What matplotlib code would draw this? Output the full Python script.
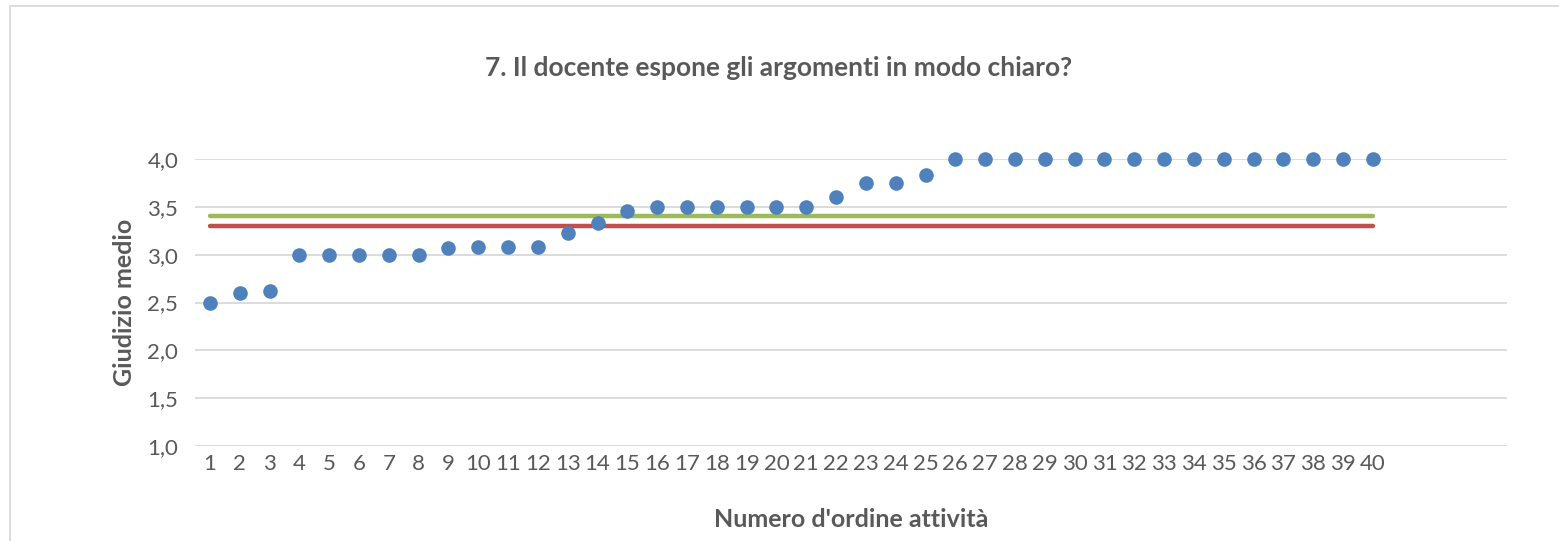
import numpy as np
import matplotlib
matplotlib.use("Agg")
import matplotlib.pyplot as plt
from matplotlib.patches import Rectangle

# Dati
attivita = list(range(1, 41))
giudizio = [2.50, 2.60, 2.62, 3.00, 3.00, 3.00, 3.00, 3.00, 3.07, 3.08,
            3.08, 3.08, 3.23, 3.33, 3.46, 3.50, 3.50, 3.50, 3.50, 3.50,
            3.50, 3.60, 3.75, 3.75, 3.83, 4.00, 4.00, 4.00, 4.00, 4.00,
            4.00, 4.00, 4.00, 4.00, 4.00, 4.00, 4.00, 4.00, 4.00, 4.00]
media_verde = 3.40
media_rossa = 3.30
yticks = [1.0, 1.5, 2.0, 2.5, 3.0, 3.5, 4.0]

TXT = "#595959"
plt.rcParams["font.family"] = ["Lato", "DejaVu Sans"]

W, H = 1559, 541
fig = plt.figure(figsize=(W / 100, H / 100), dpi=100)
ax = fig.add_axes([195 / W, 1 - 446 / H, (1507 - 195) / W, (446 - 159) / H])

# cornice del grafico
fig.patches.append(Rectangle((10 / W, -0.05), 1.1, 1 - 6 / H + 0.05,
                             transform=fig.transFigure, fill=False,
                             edgecolor="#D9D9D9", linewidth=1.3))

for y in yticks:
    ax.axhline(y, color="#D9D9D9", linewidth=1.3, zorder=1)

x = np.array(attivita)
ax.plot([x[0], x[-1]], [media_verde] * 2, color="#9BBB59", linewidth=3.2,
        solid_capstyle="round", zorder=2)
ax.plot([x[0], x[-1]], [media_rossa] * 2, color="#C0504D", linewidth=3.2,
        solid_capstyle="round", zorder=2)
ax.plot(x, giudizio, "o", color="#4F81BD", markersize=10.5, markeredgewidth=0,
        clip_on=False, zorder=3)

ax.set_xlim(0.5, 44.5)
ax.set_ylim(1.0, 4.0)
ax.set_xticks(attivita)
ax.set_xticklabels([str(i) for i in attivita])
ax.set_yticks(yticks)
ax.set_yticklabels([f"{v:.1f}".replace(".", ",") for v in yticks])
ax.tick_params(length=0, labelsize=16, labelcolor=TXT)
ax.tick_params(axis="y", pad=12)
ax.tick_params(axis="x", pad=6)
for s in ax.spines.values():
    s.set_visible(False)

ax.set_xlabel("Numero d'ordine attività", fontsize=18, fontweight="bold",
              color=TXT, labelpad=24)
ax.set_ylabel("Giudizio medio", fontsize=18, fontweight="bold", color=TXT,
              labelpad=8)
fig.text(779 / W, 1 - 68 / H, "7. Il docente espone gli argomenti in modo chiaro?",
         ha="center", va="center", fontsize=19, fontweight="bold", color=TXT)

fig.savefig("out.png", dpi=100)
